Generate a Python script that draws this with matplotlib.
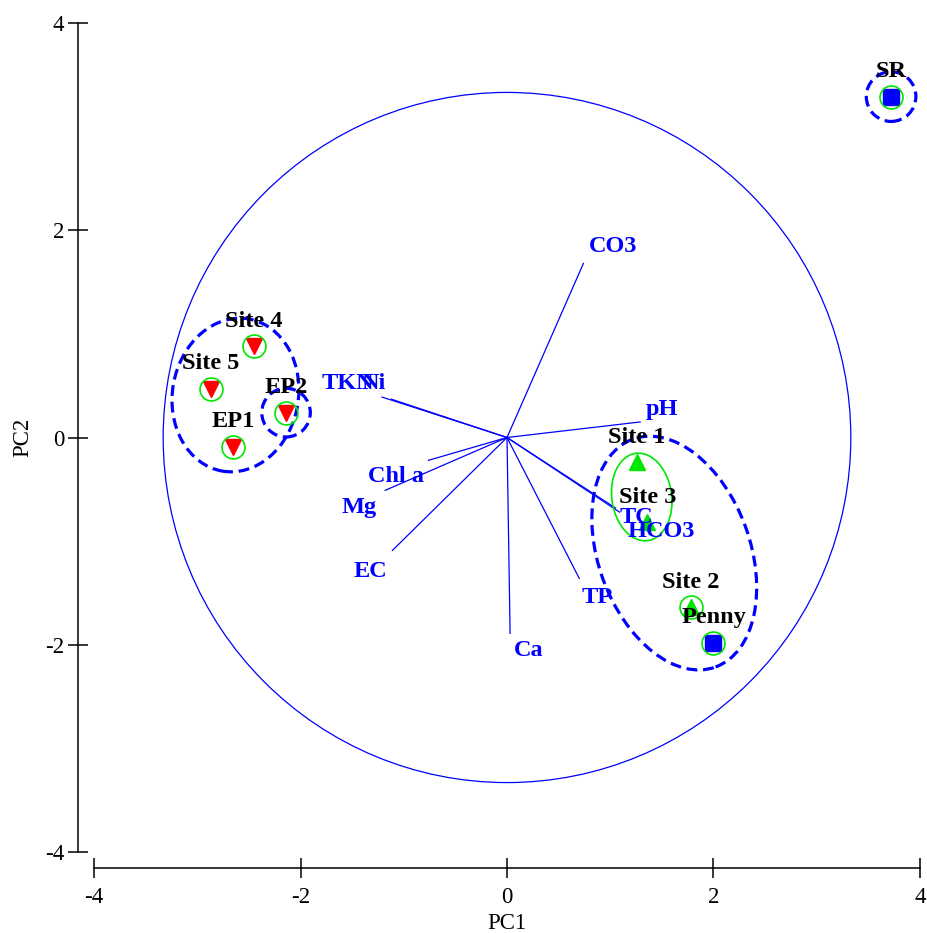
"""
PCA ordination of sites with environmental vectors and cluster overlays
"""

import numpy as np
import matplotlib
matplotlib.use('Agg')
import matplotlib.pyplot as plt
from matplotlib.patches import Ellipse, Circle
from matplotlib.ticker import FixedLocator

## Site scores (PC1, PC2)
site_names= ['SR','Penny','Site 2','Site 1','Site 3','Site 4','Site 5','EP1','EP2']
site_pc1= [3.72, 2.00, 1.78, 1.26, 1.36, -2.45, -2.87, -2.65, -2.14]
site_pc2= [3.29, -1.98, -1.64, -0.24, -0.82, 0.88, 0.47, -0.09, 0.24]
site_group= ['sq','sq','up','up','up','dn','dn','dn','dn']
site_ring= [True,True,True,False,False,True,True,True,True]

## Variable vectors (PC1, PC2 of arrow tips)
var_names= ['CO3','pH','TC','HCO3','TP','Ca','EC','Mg','Chl a','TKN','Ni']
var_pc1= [0.74, 1.29, 1.05, 1.09, 0.70, 0.03, -1.11, -1.18, -0.76, -1.21, -1.12]
var_pc2= [1.68, 0.15, -0.68, -0.72, -1.36, -1.89, -1.09, -0.51, -0.22, 0.39, 0.37]

## Circle of vector scale
circ_radius= 3.33

## Cluster overlays: (centre x, centre y, width, height, angle)
green_clusters= [(1.305, -0.574, 0.58, 0.85, 8)]
blue_clusters= [(3.72, 3.29, 0.48, 0.48, 0),
                (-2.14, 0.24, 0.47, 0.47, 0),
                (-2.63, 0.41, 1.22, 1.49, -10),
                (1.62, -1.115, 1.47, 2.34, 20)]

ticks= [-4,-2,0,2,4]
tick_labels= ['-4','-2','0','2','4']

def main():
    plt.rcParams['font.family']= ['Liberation Serif','DejaVu Serif']
    blue= '#0000ff'
    green= '#00e600'
    red= '#ff0000'

    fig= plt.figure(figsize=(9.28,9.33),dpi=100)
    ax= fig.add_axes([94/928, 81/933, 826/928, 829/933])
    ax.set_xlim(-4,4)
    ax.set_ylim(-4,4)

    ### Vector scale circle and vectors
    ax.add_patch(Circle((0,0),circ_radius,fill=False,ec=blue,lw=0.9,zorder=1))
    offs= {'CO3':(4,12,'left'),'pH':(4,9,'left'),'TC':(3,-7,'left'),
           'HCO3':(6,-14,'left'),'TP':(2,-14,'left'),'Ca':(3,-12,'left'),
           'EC':(-4,-15,'right'),'Mg':(-6,-12,'right'),'Chl a':(-3,-12,'right'),
           'TKN':(-6,10,'right'),'Ni':(-4,11,'right')}
    for name,vx,vy in zip(var_names,var_pc1,var_pc2):
        ax.plot([0,vx],[0,vy],color=blue,lw=0.9,zorder=2)
        dx,dy,ha= offs[name]
        ax.annotate(name,(vx,vy),xytext=(dx,dy),textcoords='offset points',
                    ha=ha,va='center',color=blue,fontsize=17.5,fontweight='bold',zorder=6)

    ### Cluster overlays
    for cx,cy,w,h,ang in green_clusters:
        ax.add_patch(Ellipse((cx,cy),w,h,angle=ang,fill=False,ec=green,lw=1.2,zorder=3))
    for cx,cy,w,h,ang in blue_clusters:
        ax.add_patch(Ellipse((cx,cy),w,h,angle=ang,fill=False,ec=blue,lw=2.3,
                             ls=(0,(3.4,1.8)),zorder=3))

    ### Sites
    mk= {'sq':('s',blue),'up':('^',green),'dn':('v',red)}
    for name,x,y,g,ring in zip(site_names,site_pc1,site_pc2,site_group,site_ring):
        m,c= mk[g]
        ax.plot(x,y,marker=m,ms=12,color=c,mec=c,ls='none',zorder=4)
        if ring:
            ax.plot(x,y,marker='o',ms=16.5,mfc='none',mec=green,mew=1.2,ls='none',zorder=4)
        ax.annotate(name,(x,y),xytext=(0,18),textcoords='offset points',
                    ha='center',va='center',color='k',fontsize=17.5,fontweight='bold',zorder=5)

    ### Axes
    for s in ['top','right']:
        ax.spines[s].set_visible(False)
    for s in ['left','bottom']:
        ax.spines[s].set_position(('outward',11.5))
        ax.spines[s].set_linewidth(1.1)
        ax.spines[s].set_bounds(-4,4)
    ax.xaxis.set_major_locator(FixedLocator(ticks))
    ax.yaxis.set_major_locator(FixedLocator(ticks))
    ax.set_xticklabels(tick_labels)
    ax.set_yticklabels(tick_labels)
    ax.tick_params(direction='inout',length=14,width=1.1,labelsize=16.5)
    ax.tick_params(axis='x',pad=7)
    ax.tick_params(axis='y',pad=3)
    ax.set_xlabel('PC1',fontsize=16.5,labelpad=3)
    ax.set_ylabel('PC2',fontsize=16.5,labelpad=8)
    ax.patch.set_visible(False)

    plt.savefig('out.png',dpi=100)
    return

if __name__=='__main__':
    main()
